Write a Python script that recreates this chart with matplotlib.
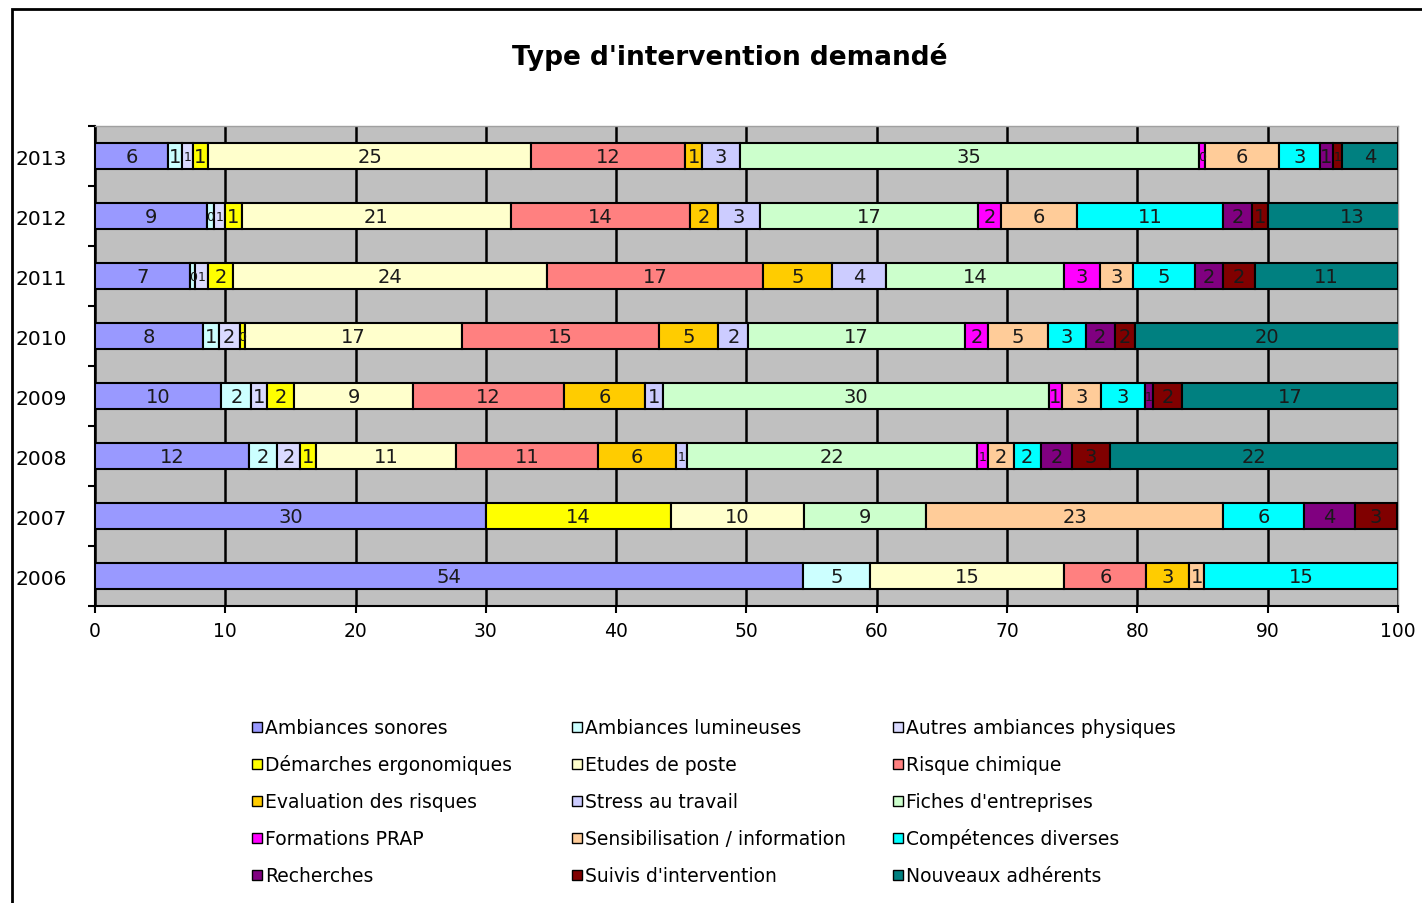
import numpy as np
import matplotlib
matplotlib.use("Agg")
import matplotlib.pyplot as plt
from matplotlib.patches import Rectangle

years = ["2006", "2007", "2008", "2009", "2010", "2011", "2012", "2013"]

# share of each intervention type per year (%)
sonores = [54.3, 30.0, 11.8, 9.7, 8.3, 7.3, 8.6, 5.6]
lumineuses = [5.2, 0, 2.2, 2.3, 1.2, 0.4, 0.5, 1.05]
autres = [0, 0, 1.7, 1.2, 1.6, 0.95, 0.9, 0.85]
demarches = [0, 14.2, 1.3, 2.1, 0.45, 1.95, 1.25, 1.2]
etudes = [14.9, 10.2, 10.7, 9.1, 16.6, 24.1, 20.65, 24.8]
risque = [6.3, 0, 10.9, 11.6, 15.1, 16.6, 13.8, 11.8]
evaluation = [3.3, 0, 6.0, 6.2, 4.6, 5.3, 2.1, 1.3]
stress = [0, 0, 0.8, 1.4, 2.3, 4.1, 3.2, 2.9]
fiches = [0, 9.4, 22.3, 29.6, 16.6, 13.7, 16.8, 35.2]
formations = [0, 0, 0.8, 1.0, 1.8, 2.7, 1.7, 0.5]
sensibilisation = [1.1, 22.8, 2.0, 3.0, 4.6, 2.6, 5.9, 5.7]
competences = [14.9, 6.2, 2.1, 3.4, 2.9, 4.7, 11.2, 3.1]
recherches = [0, 3.9, 2.4, 0.6, 2.2, 2.2, 2.2, 1.0]
suivis = [0, 3.2, 2.9, 2.2, 1.6, 2.4, 1.2, 0.7]
nouveaux = [0, 0, 22.1, 16.6, 20.2, 11.0, 13.0, 4.3]

series_names = [
    "Ambiances sonores", "Ambiances lumineuses", "Autres ambiances physiques",
    "Démarches ergonomiques", "Etudes de poste", "Risque chimique",
    "Evaluation des risques", "Stress au travail", "Fiches d'entreprises",
    "Formations PRAP", "Sensibilisation / information", "Compétences diverses",
    "Recherches", "Suivis d'intervention", "Nouveaux adhérents",
]
series_values = [sonores, lumineuses, autres, demarches, etudes, risque,
                 evaluation, stress, fiches, formations, sensibilisation,
                 competences, recherches, suivis, nouveaux]
colors = ["#9999FF", "#CCFFFF", "#DADAFF", "#FFFF00", "#FFFFCC", "#FF8080",
          "#FFCC00", "#CCCCFF", "#CCFFCC", "#FF00FF", "#FFCC99", "#00FFFF",
          "#800080", "#800000", "#008080"]

plt.rcParams["font.family"] = "DejaVu Sans"

W, H = 1422, 904
fig = plt.figure(figsize=(W / 100, H / 100), dpi=100)
ax = fig.add_axes([0.0668, 0.3285, 0.9163, 0.531])
ax.set_facecolor("#C0C0C0")

y = np.arange(len(years))
left = np.zeros(len(years))
for name, vals, col in zip(series_names, series_values, colors):
    vals = np.array(vals, dtype=float)
    m = vals > 0
    ax.barh(y[m], vals[m], left=left[m], height=0.42, color=col,
            edgecolor="black", linewidth=1.5, zorder=3)
    for yi, v, l in zip(y[m], vals[m], left[m]):
        # very thin segments get a smaller label so they crowd less
        fs = 14 if v >= 1 else 9
        ax.text(l + v / 2, yi, "%.0f" % v, ha="center", va="center",
                fontsize=fs, color="#1a1a1a", zorder=4)
    left = left + vals

ax.set_xlim(0, 100)
ax.set_ylim(-0.5, len(years) - 0.5)
ax.set_xticks(np.arange(0, 101, 10))
ax.xaxis.grid(True, color="black", linewidth=1.8, zorder=1)
ax.set_axisbelow(True)
ax.tick_params(axis="x", labelsize=13.5, length=5, width=1.5, direction="out", pad=6)

ax.set_yticks(y)
ax.set_yticklabels(years, fontsize=14.5)
ax.tick_params(axis="y", length=0, pad=20)
ax.set_yticks(np.arange(-0.5, len(years)), minor=True)
ax.tick_params(axis="y", which="minor", length=5, width=1.5, direction="out")

for s in ["left", "bottom"]:
    ax.spines[s].set_color("black")
    ax.spines[s].set_linewidth(1.5)
for s in ["top", "right"]:
    ax.spines[s].set_color("#A0A0A0")
    ax.spines[s].set_linewidth(1.0)

fig.text(0.513, 0.937, "Type d'intervention demandé", ha="center", va="center",
         fontsize=19, fontweight="bold")

# legend: 3 columns x 5 rows, filled row by row, rows aligned
col_px = [252, 572, 893]
row_px = [728, 765, 802, 839, 876]
box = 10
for i, (name, col) in enumerate(zip(series_names, colors)):
    x0 = col_px[i % 3]
    yc = row_px[i // 3]
    fig.patches.append(Rectangle((x0 / W, 1 - (yc + box / 2) / H), box / W, box / H,
                                 transform=fig.transFigure, facecolor=col,
                                 edgecolor="black", linewidth=1.0))
    fig.text((x0 + box + 3) / W, 1 - (yc + 6) / H, name, ha="left",
             va="baseline", fontsize=13.5)

# outer chart frame
fig.patches.append(Rectangle((12 / W, -0.05), 1.1, 1.05 - 10 / H,
                             transform=fig.transFigure, fill=False,
                             edgecolor="black", linewidth=2))

fig.savefig("out.png", dpi=100)
